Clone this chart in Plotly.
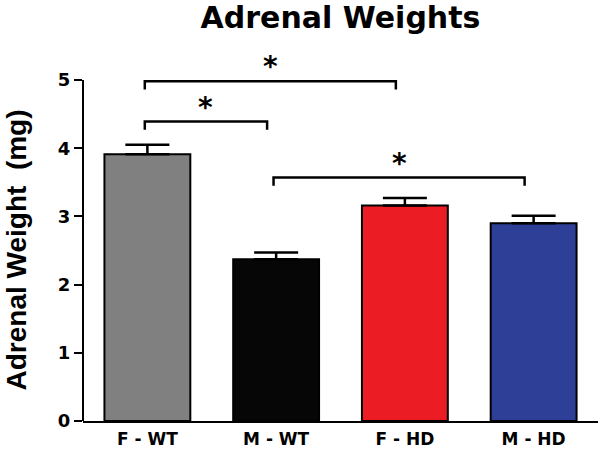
import plotly.graph_objects as go

groups = ["F - WT", "M - WT", "F - HD", "M - HD"]
weights = [3.91, 2.37, 3.16, 2.90]
sem = [0.14, 0.10, 0.11, 0.11]
bar_colors = ["#808080", "#060606", "#ec1c24", "#2e3f98"]

# significance brackets: (left group, right group, height)
comparisons = [(0, 2, 4.98), (0, 1, 4.39), (1, 3, 3.57)]

FONT = "DejaVu Sans"

fig = go.Figure()
x_pos = list(range(len(groups)))

fig.add_trace(go.Bar(
    x=x_pos,
    y=weights,
    width=0.667,
    marker=dict(color=bar_colors, line=dict(color="black", width=2)),
    error_y=dict(type="data", symmetric=False, array=sem, arrayminus=[0] * len(sem),
                 color="black", thickness=2.5, width=22),
    showlegend=False,
    hoverinfo="skip",
))

shapes = []
annotations = []
for a, b, h in comparisons:
    x0 = a - 0.02
    x1 = b - 0.07
    shapes.append(dict(type="path", xref="x", yref="y",
                       path=f"M {x0},{h - 0.12} L {x0},{h} L {x1},{h} L {x1},{h - 0.12}",
                       line=dict(color="black", width=2.5)))
    annotations.append(dict(x=(x0 + x1) / 2, y=h, xref="x", yref="y", text="<b>*</b>",
                            showarrow=False, yanchor="bottom", yshift=-4,
                            font=dict(family=FONT, size=28, color="black")))

# y axis line only from 0 to 5
shapes.append(dict(type="line", xref="paper", yref="y", x0=0, x1=0, y0=0, y1=5,
                   line=dict(color="black", width=2)))

annotations.append(dict(x=0, y=2.5, xref="paper", yref="y", xanchor="center", xshift=-67,
                        text="<b>Adrenal Weight  (mg)</b>", textangle=-90, showarrow=False,
                        font=dict(family="Liberation Sans", size=28, color="black")))

fig.update_layout(
    width=600,
    height=449,
    margin=dict(l=83, r=2, t=36, b=28),
    paper_bgcolor="white",
    plot_bgcolor="white",
    title=dict(text="<b>Adrenal Weights</b>", x=0.5, xref="paper", y=0.96, yref="container",
               yanchor="middle", font=dict(family=FONT, size=30, color="black")),
    xaxis=dict(range=[-0.5, 3.5], tickvals=x_pos, ticktext=groups, showline=True,
               linecolor="black", linewidth=2, ticks="", showgrid=False, zeroline=False,
               ticklabelstandoff=2, automargin=False,
               tickfont=dict(family=FONT, size=17, color="black", weight="bold")),
    yaxis=dict(range=[0, 5.645], tickvals=[0, 1, 2, 3, 4, 5], showline=False,
               ticks="outside", ticklen=8, tickwidth=2, tickcolor="black",
               showgrid=False, zeroline=False, automargin=False,
               tickfont=dict(family=FONT, size=18, color="black", weight="bold")),
    shapes=shapes,
    annotations=annotations,
)

# the page body has a default 8px margin; remove it so the figure fills the window
fig.write_html("out.html", config={"displayModeBar": False},
               post_script="document.body.style.margin='0';")
